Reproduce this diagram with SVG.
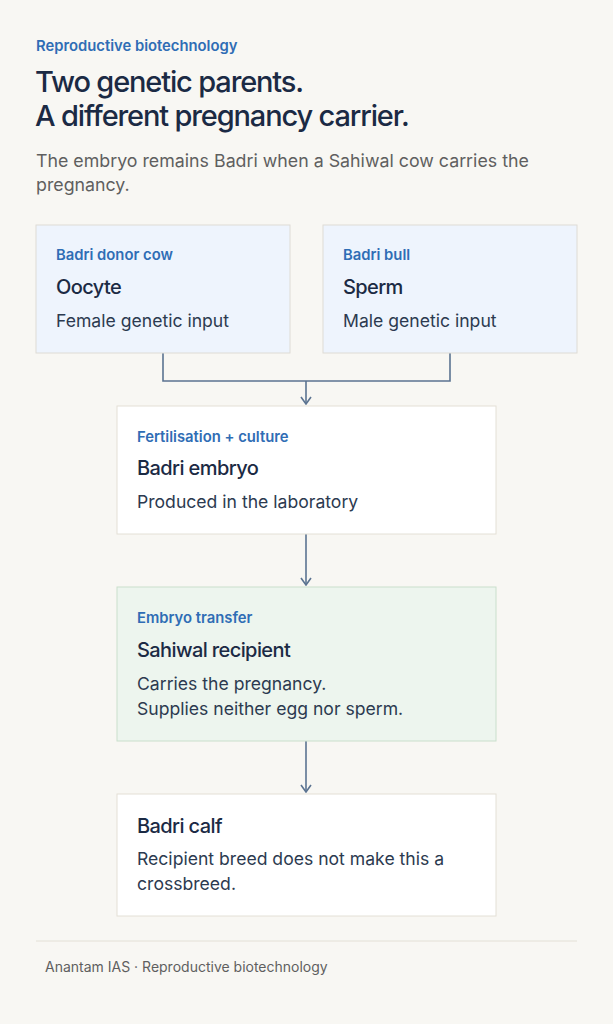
<svg xmlns="http://www.w3.org/2000/svg" width="613" height="1024" viewBox="0 0 613 1024">
<style>
text{font-family:Inter,"Noto Sans","Liberation Sans",sans-serif}
.eyebrow{font-size:14.8px;font-weight:600;fill:#2f6db5}
.title{font-size:29px;font-weight:500;fill:#1b2a44;letter-spacing:-1.15px}
.sub{font-size:17.8px;fill:#5f5f5f}
.head{font-size:20px;font-weight:500;fill:#1b2a44;letter-spacing:-0.6px}
.body{font-size:17.6px;fill:#2c3a50}
.foot{font-size:14px;fill:#5f5f5f}
.conn{fill:none;stroke:#5b7391;stroke-width:1.6}
</style>
<defs>
<marker id="arr" viewBox="0 0 12 12" refX="11" refY="6" markerWidth="12" markerHeight="12" markerUnits="userSpaceOnUse" orient="auto">
<path d="M4,1 L11,6 L4,11" fill="none" stroke="#5b7391" stroke-width="1.6"/>
</marker>
</defs>
<rect width="613" height="1024" fill="#f8f7f3"/>
<text class="eyebrow" x="36" y="51">Reproductive biotechnology</text>
<text class="title" x="35" y="92">Two genetic parents.</text>
<text class="title" x="35" y="126">A different pregnancy carrier.</text>
<text class="sub" x="36" y="167">The embryo remains Badri when a Sahiwal cow carries the</text>
<text class="sub" x="36" y="191">pregnancy.</text>
<g id="connectors">
<path class="conn" d="M163,353 V381 H450 V353"/>
<path class="conn" d="M306,381 V404" marker-end="url(#arr)"/>
<path class="conn" d="M306,534 V585" marker-end="url(#arr)"/>
<path class="conn" d="M306,741 V792" marker-end="url(#arr)"/>
</g>
<g id="oocyte">
<rect x="36" y="225" width="254" height="128" fill="#eef4fd" stroke="#dedcd5"/>
<text class="eyebrow" x="56" y="260">Badri donor cow</text>
<text class="head" x="56" y="294">Oocyte</text>
<text class="body" x="56" y="327">Female genetic input</text>
</g>
<g id="sperm">
<rect x="323" y="225" width="254" height="128" fill="#eef4fd" stroke="#dedcd5"/>
<text class="eyebrow" x="343" y="260">Badri bull</text>
<text class="head" x="343" y="294">Sperm</text>
<text class="body" x="343" y="327">Male genetic input</text>
</g>
<g id="embryo">
<rect x="117" y="406" width="379" height="128" fill="#ffffff" stroke="#e3e0d6"/>
<text class="eyebrow" x="137" y="442">Fertilisation + culture</text>
<text class="head" x="137" y="475">Badri embryo</text>
<text class="body" x="137" y="508">Produced in the laboratory</text>
</g>
<g id="recipient">
<rect x="117" y="587" width="379" height="154" fill="#edf5ee" stroke="#c9dfcc"/>
<text class="eyebrow" x="137" y="623">Embryo transfer</text>
<text class="head" x="137" y="657">Sahiwal recipient</text>
<text class="body" x="137" y="690">Carries the pregnancy.</text>
<text class="body" x="137" y="715">Supplies neither egg nor sperm.</text>
</g>
<g id="calf">
<rect x="117" y="794" width="379" height="122" fill="#ffffff" stroke="#e3e0d6"/>
<text class="head" x="137" y="833">Badri calf</text>
<text class="body" x="137" y="865">Recipient breed does not make this a</text>
<text class="body" x="137" y="890">crossbreed.</text>
</g>
<line x1="36" y1="941" x2="577" y2="941" stroke="#e3e0d6" stroke-width="1"/>
<text class="foot" x="45" y="972">Anantam IAS · Reproductive biotechnology</text>
</svg>
